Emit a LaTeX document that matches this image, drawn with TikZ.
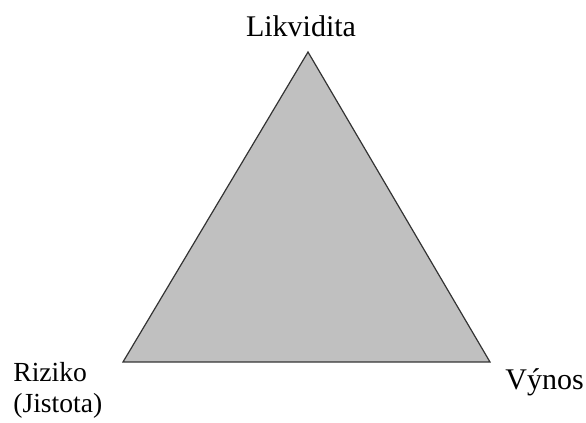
\documentclass[tikz,border=0pt]{standalone}
\usepackage{fontspec}
\setmainfont{Liberation Serif}
\definecolor{fillgray}{RGB}{192,192,192}
\usetikzlibrary{positioning}

\begin{document}
\begin{tikzpicture}[x=0.5pt, y=-0.5pt,
    corner/.style={inner sep=0pt, font=\fontsize{15}{15}\selectfont},
    lowlabel/.style={inner sep=0pt, align=left, font=\fontsize{13.8}{15.5}\selectfont},
  ]
    \useasboundingbox (0,0) rectangle (586,423);
    % vertices of the triangle
    \coordinate (top) at (308,52);
    \coordinate (left) at (123,362);
    \coordinate (right) at (490,362);
    \draw[fill=fillgray, draw=black!80, line width=0.6pt] (top) -- (left) -- (right) -- cycle;
    % labels
    \node[corner, anchor=base] (likvidita) at (301,37) {Likvidita};
    \node[corner, anchor=base west] (vynos) at (505,390) {Výnos};
    \node[lowlabel, anchor=base west] (riziko) at (13,413) {Riziko\\(Jistota)};
  \end{tikzpicture}
\end{document}
